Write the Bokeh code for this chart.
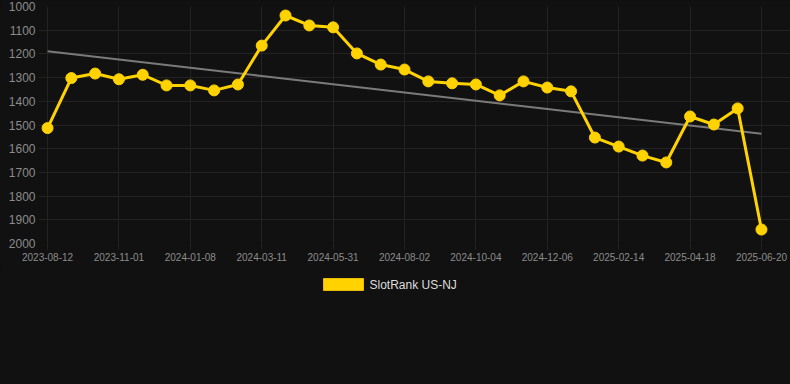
import numpy as np
from bokeh.plotting import figure
from bokeh.layouts import column
from bokeh.models import (Range1d, FixedTicker, BoxAnnotation, Label, ColumnDataSource)
from bokeh.embed import file_html
from bokeh.resources import INLINE

# ---- data ----
tick_labels = ["2023-08-12", "2023-11-01", "2024-01-08", "2024-03-11", "2024-05-31",
               "2024-08-02", "2024-10-04", "2024-12-06", "2025-02-14", "2025-04-18",
               "2025-06-20"]
rank = [1513, 1302, 1283, 1307, 1288, 1333, 1333, 1354, 1329, 1165,
        1038, 1080, 1088, 1198, 1245, 1266, 1316, 1324, 1329, 1375,
        1316, 1342, 1358, 1553, 1591, 1629, 1658, 1464, 1498, 1430,
        1941]
series_name = "SlotRank US-NJ"
y_ticks = list(range(1000, 2001, 100))

idx = np.arange(len(rank))
slope, intercept = np.polyfit(idx, rank, 1)
trend = slope * idx + intercept

BG = "#111111"
GOLD = "#ffd200"
GRID = "#232323"
LABEL = "#8c8c8c"
FONT = "Liberation Sans"

p = figure(width=790, height=270, output_backend="svg", toolbar_location=None,
           x_range=Range1d(-0.38, 31.22), y_range=Range1d(2000, 1000),
           min_border_left=38, min_border_right=0, min_border_top=6,
           min_border_bottom=27, background_fill_color=BG,
           border_fill_color=BG, outline_line_color=None)

# trend line
p.line(idx, trend, line_color="#7a7a7a", line_width=2)
# series
src = ColumnDataSource(dict(x=idx, y=rank))
p.line("x", "y", source=src, line_color=GOLD, line_width=3)
p.scatter("x", "y", source=src, size=11, fill_color=GOLD, line_color=GOLD)

# axes
p.xaxis.ticker = FixedTicker(ticks=list(range(0, len(rank), 3)))
p.xaxis.major_label_overrides = {i * 3: t for i, t in enumerate(tick_labels)}
p.xaxis.major_label_text_font_size = "10px"
p.xaxis.major_label_text_color = LABEL
p.xaxis.major_label_text_font = FONT
p.xaxis.axis_line_color = None
p.xaxis.major_tick_line_color = GRID
p.xaxis.major_tick_in = 0
p.xaxis.major_tick_out = 6
p.xaxis.minor_tick_line_color = None
p.xaxis.major_label_standoff = 3

p.yaxis.ticker = FixedTicker(ticks=y_ticks)
p.yaxis.major_label_text_font_size = "12px"
p.yaxis.major_label_text_color = LABEL
p.yaxis.major_label_text_font = FONT
p.yaxis.axis_line_color = None
p.yaxis.major_tick_line_color = None
p.yaxis.minor_tick_line_color = None
p.yaxis.major_tick_in = 0
p.yaxis.major_tick_out = 0
p.yaxis.major_label_standoff = 3

p.xgrid.grid_line_color = GRID
p.ygrid.grid_line_color = GRID
p.xgrid.ticker = p.xaxis.ticker
p.ygrid.ticker = p.yaxis.ticker

# legend strip below the chart (swatch + label as screen-space annotations;
# the column aligns this strip's frame with the chart frame, 38px from the left)
lg = figure(width=790, height=114, output_backend="svg", toolbar_location=None,
            x_range=Range1d(0, 1), y_range=Range1d(0, 1),
            x_axis_type=None, y_axis_type=None,
            min_border=0, background_fill_color=BG,
            border_fill_color=BG, outline_line_color=None)
lg.xgrid.visible = False
lg.ygrid.visible = False
swatch = BoxAnnotation(left=285, right=325, bottom=94, top=106,
                       left_units="screen", right_units="screen",
                       bottom_units="screen", top_units="screen",
                       fill_color=GOLD, fill_alpha=1.0,
                       line_color="#e6bb00", line_width=1, line_alpha=1.0)
lg.add_layout(swatch)
lg.add_layout(Label(x=331, y=100, x_units="screen", y_units="screen",
                    text=series_name, text_color="#dddddd", text_font=FONT,
                    text_font_size="12px", text_baseline="middle",
                    text_align="left"))

layout = column(p, lg, spacing=0, styles={"background-color": BG})
html = file_html(layout, INLINE)
html = html.replace("<body>", "<body style=\"margin:0;background:#111111;\">", 1)
open("out.html", "w").write(html)
